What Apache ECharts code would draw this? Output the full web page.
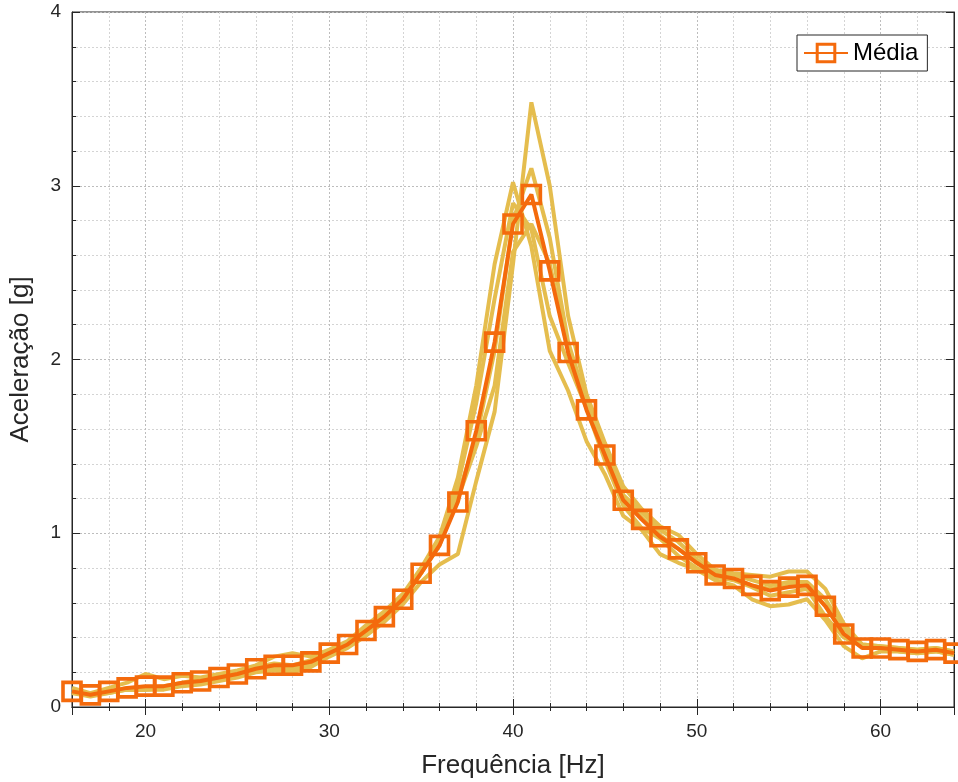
<!DOCTYPE html>
<html>
<head>
<meta charset="utf-8">
<script src="https://cdn.jsdelivr.net/npm/echarts@6/dist/echarts.min.js"></script>
<style>
  html, body { margin: 0; padding: 0; background: #ffffff; }
  #chart { width: 958px; height: 782px; }
</style>
</head>
<body>
<div id="chart"></div>
<script>
// frequências [Hz]
const freq = [16, 17, 18, 19, 20, 21, 22, 23, 24, 25, 26, 27, 28, 29, 30, 31, 32, 33, 34, 35, 36, 37, 38, 39, 40,
  41, 42, 43, 44, 45, 46, 47, 48, 49, 50, 51, 52, 53, 54, 55, 56, 57, 58, 59, 60, 61, 62, 63, 64]

// ensaios individuais [g]
const ensaio1 = [0.08, 0.06, 0.08, 0.10, 0.10, 0.10, 0.12, 0.13, 0.15, 0.17, 0.20, 0.21, 0.20, 0.23, 0.29, 0.34, 0.41, 0.49, 0.59, 0.72, 0.82, 0.88, 1.30, 1.70, 2.55,
  3.48, 3.00, 2.25, 1.80, 1.52, 1.27, 1.14, 1.04, 0.99, 0.88, 0.79, 0.77, 0.76, 0.75, 0.78, 0.78, 0.68, 0.48, 0.36, 0.35, 0.34, 0.33, 0.34, 0.32]
const ensaio2 = [0.11, 0.08, 0.11, 0.14, 0.19, 0.16, 0.18, 0.17, 0.19, 0.21, 0.24, 0.29, 0.31, 0.29, 0.33, 0.38, 0.47, 0.55, 0.65, 0.80, 0.98, 1.32, 1.85, 2.55, 3.02,
  2.65, 2.05, 1.82, 1.53, 1.34, 1.10, 1.02, 0.88, 0.83, 0.79, 0.73, 0.70, 0.62, 0.58, 0.59, 0.62, 0.50, 0.35, 0.28, 0.32, 0.32, 0.31, 0.32, 0.30]
const ensaio3 = [0.09, 0.07, 0.09, 0.11, 0.11, 0.12, 0.14, 0.16, 0.18, 0.20, 0.23, 0.25, 0.24, 0.27, 0.32, 0.37, 0.45, 0.53, 0.63, 0.79, 0.97, 1.28, 1.75, 2.35, 2.90,
  2.75, 2.25, 1.98, 1.72, 1.42, 1.16, 1.03, 0.97, 0.87, 0.80, 0.75, 0.73, 0.69, 0.64, 0.66, 0.68, 0.52, 0.40, 0.35, 0.34, 0.32, 0.31, 0.32, 0.30]
const ensaio4 = [0.09, 0.07, 0.09, 0.10, 0.10, 0.11, 0.13, 0.15, 0.17, 0.19, 0.22, 0.23, 0.23, 0.26, 0.31, 0.36, 0.44, 0.52, 0.62, 0.77, 0.93, 1.22, 1.55, 2.05, 2.80,
  3.10, 2.70, 2.10, 1.76, 1.50, 1.22, 1.12, 1.02, 0.95, 0.85, 0.77, 0.76, 0.73, 0.70, 0.72, 0.72, 0.62, 0.45, 0.36, 0.35, 0.34, 0.33, 0.34, 0.32]
const ensaio5 = [0.08, 0.07, 0.08, 0.10, 0.10, 0.11, 0.13, 0.14, 0.16, 0.18, 0.21, 0.22, 0.22, 0.25, 0.30, 0.35, 0.43, 0.51, 0.61, 0.77, 0.95, 1.20, 1.50, 1.85, 2.62,
  2.78, 2.55, 2.05, 1.74, 1.47, 1.20, 1.09, 0.99, 0.91, 0.83, 0.76, 0.74, 0.70, 0.68, 0.70, 0.70, 0.58, 0.42, 0.35, 0.34, 0.33, 0.32, 0.33, 0.31]

// média dos ensaios [g]
const media = [0.09, 0.07, 0.09, 0.11, 0.12, 0.12, 0.14, 0.15, 0.17, 0.19, 0.22, 0.24, 0.24, 0.26, 0.31, 0.36, 0.44, 0.52, 0.62, 0.77, 0.93, 1.18, 1.59, 2.10, 2.78,
  2.95, 2.51, 2.04, 1.71, 1.45, 1.19, 1.08, 0.98, 0.91, 0.83, 0.76, 0.74, 0.70, 0.67, 0.69, 0.70, 0.58, 0.42, 0.34, 0.34, 0.33, 0.32, 0.33, 0.31]

const ensaios = [ensaio1, ensaio2, ensaio3, ensaio4, ensaio5]

const myChart = echarts.init(document.getElementById('chart'))

const fonte = "'Liberation Sans', Arial, sans-serif"
const escuro = '#262626'
const amarelo = '#E5BD4E'
const laranja = '#F46A0C'

const pares = (ys) => freq.map((f, i) => [f, ys[i]])

const series = ensaios.map((ys, k) => ({
  name: 'ensaio' + (k + 1),
  type: 'line',
  data: pares(ys),
  symbol: 'none',
  silent: true,
  lineStyle: { color: amarelo, width: 4 },
  z: 2
}))

series.push({
  name: 'Média',
  type: 'line',
  data: pares(media),
  symbol: 'rect',
  symbolSize: 18,
  lineStyle: { color: laranja, width: 4 },
  itemStyle: { color: 'rgba(255,255,255,0)', borderColor: laranja, borderWidth: 3.6 },
  z: 3
})

// grade pontilhada
const gradeMaior = { show: true, lineStyle: { color: '#bdbdbd', width: 1, type: [2, 2] } }
const gradeMenor = { show: true, lineStyle: { color: '#d4d4d4', width: 1, type: [2, 2] } }

const options = {
  animation: false,
  backgroundColor: '#ffffff',
  grid: {
    left: 72,
    right: 4,
    top: 12,
    bottom: 75,
    show: true,
    borderColor: escuro,
    borderWidth: 1,
    outerBoundsMode: 'none',
    containLabel: false
  },
  legend: {
    data: [{
      name: 'Média',
      itemStyle: { color: 'rgba(255,255,255,0)', borderColor: laranja, borderWidth: 3 }
    }],
    left: 797,
    top: 35,
    orient: 'horizontal',
    backgroundColor: '#ffffff',
    borderColor: escuro,
    borderWidth: 1,
    borderRadius: 0,
    padding: [6, 9, 6, 6],
    itemWidth: 44,
    itemHeight: 22,
    itemGap: 6,
    textStyle: { color: '#000000', fontSize: 24, fontFamily: fonte }
  },
  xAxis: [{
    type: 'value',
    min: 16,
    max: 64,
    splitNumber: 5,
    name: 'Frequência [Hz]',
    nameLocation: 'middle',
    nameGap: 46,
    nameTextStyle: { color: escuro, fontSize: 26, fontFamily: fonte },
    axisLine: { show: true, lineStyle: { color: escuro, width: 1 } },
    axisTick: { show: true, inside: true, length: 8, lineStyle: { color: escuro } },
    minorTick: { show: true, splitNumber: 5, length: 4, lineStyle: { color: escuro } },
    axisLabel: { color: escuro, fontSize: 19, fontFamily: fonte, margin: 15, showMinLabel: false, showMaxLabel: false },
    splitLine: gradeMaior,
    minorSplitLine: gradeMenor
  }, {
    type: 'value',
    position: 'top',
    min: 16,
    max: 64,
    splitNumber: 5,
    axisLine: { show: true, lineStyle: { color: escuro, width: 1 } },
    axisTick: { show: true, inside: true, length: 8, lineStyle: { color: escuro } },
    minorTick: { show: true, splitNumber: 5, length: 4, lineStyle: { color: escuro } },
    axisLabel: { show: false },
    splitLine: { show: false }
  }],
  yAxis: [{
    type: 'value',
    min: 0,
    max: 4,
    interval: 1,
    name: 'Aceleração [g]',
    nameLocation: 'middle',
    nameGap: 38,
    nameTextStyle: { color: escuro, fontSize: 26, fontFamily: fonte },
    axisLine: { show: true, lineStyle: { color: escuro, width: 1 } },
    axisTick: { show: true, inside: true, length: 8, lineStyle: { color: escuro } },
    minorTick: { show: true, splitNumber: 5, length: 4, lineStyle: { color: escuro } },
    axisLabel: { color: escuro, fontSize: 19, fontFamily: fonte, margin: 11 },
    splitLine: gradeMaior,
    minorSplitLine: gradeMenor
  }, {
    type: 'value',
    position: 'right',
    min: 0,
    max: 4,
    interval: 1,
    axisLine: { show: true, lineStyle: { color: escuro, width: 1 } },
    axisTick: { show: true, inside: true, length: 8, lineStyle: { color: escuro } },
    minorTick: { show: true, splitNumber: 5, length: 4, lineStyle: { color: escuro } },
    axisLabel: { show: false },
    splitLine: { show: false }
  }],
  series: series
}

myChart.setOption(options)
</script>
</body>
</html>
